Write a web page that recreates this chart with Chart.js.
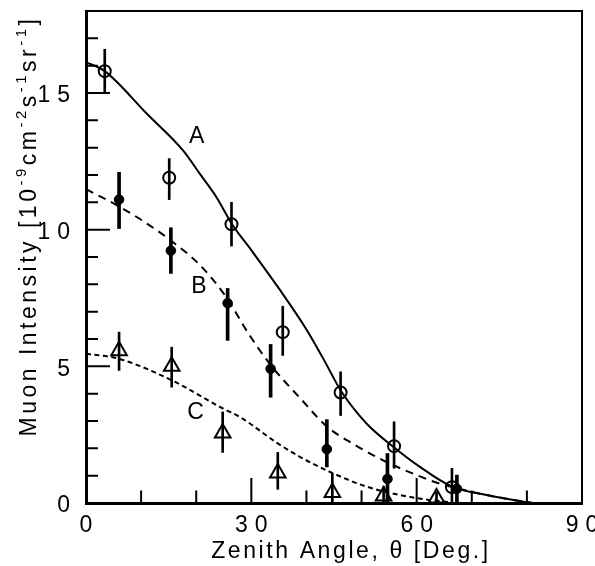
<!DOCTYPE html>
<html><head><meta charset="utf-8">
<script src="https://cdn.jsdelivr.net/npm/chart.js@4/dist/chart.umd.min.js"></script>
<style>html,body{margin:0;padding:0;background:#fff}</style>
</head><body>
<canvas id="c" width="595" height="566"></canvas>
<script>
// ---- axis ticks ----
const xTickValues = [0, 30, 60, 90];
const xMajorTicks = [30, 60];
const xMinorTicks = [10, 20, 40, 50, 70, 80];
const yTickValues = [0, 5, 10, 15];
const yMajorTicks = [5, 10, 15];
const yMinorTicks = [1, 2, 3, 4, 6, 7, 8, 9, 11, 12, 13, 14, 16, 17];

// ---- data: A (open circles) ----
const angleA = [3.4, 15.1, 26.4, 35.7, 46.2, 55.9, 66.4];
const valueA = [15.8, 11.9, 10.2, 6.25, 4.04, 2.08, 0.58];
const lowA   = [15.0, 11.1, 9.4, 5.4, 3.2, 1.27, 0];
const highA  = [16.6, 12.6, 11.0, 7.2, 4.8, 2.97, 1.27];
// ---- data: B (filled circles) ----
const angleB = [6.0, 15.4, 25.7, 33.5, 43.7, 54.7, 67.3];
const valueB = [11.1, 9.23, 7.31, 4.91, 1.97, 0.88, 0.52];
const lowB   = [10.04, 8.4, 5.95, 3.87, 1.32, 0, 0];
const highB  = [12.1, 10.07, 7.85, 5.8, 3.05, 1.81, 1.02];
// ---- data: C (open triangles) ----
const angleC = [6.0, 15.55, 24.8, 34.8, 44.7, 54.0, 63.6];
const valueC = [5.57, 5.0, 2.56, 1.1, 0.38, 0.26, 0.18];
const lowC   = [4.85, 4.24, 1.85, 0.5, 0, 0, 0];
const highC  = [6.25, 5.7, 3.33, 1.85, 1.08, 0.6, 0.4];

// ---- model curves ----
const curveAx = [0, 3.4, 11, 17.6, 20.7, 23.7, 26.5, 30, 35, 40, 43, 46.4, 50.9, 55.8, 60.6, 66.4, 72.7, 79.4, 81];
const curveAy = [16.13, 15.8, 14.25, 12.9, 12.03, 11.18, 10.2, 9.25, 7.85, 6.35, 5.3, 4.06, 2.91, 2.05, 1.32, 0.6, 0.29, 0.05, 0];
const curveBx = [0, 6, 11.6, 15.4, 20.7, 25.2, 29.8, 33.5, 38.8, 43.7, 49, 54, 60, 64, 66.7, 72.7, 79.4, 81];
const curveBy = [11.48, 10.85, 10.15, 9.6, 8.7, 7.6, 6.1, 5.05, 3.85, 2.8, 2.1, 1.55, 1.02, 0.72, 0.57, 0.29, 0.05, 0];
const curveCx = [0, 5.9, 15.55, 24.9, 27.9, 34.8, 38.8, 44.9, 50.9, 57, 62, 66];
const curveCy = [5.46, 5.28, 4.49, 3.45, 3.15, 2.18, 1.69, 1.08, 0.6, 0.29, 0.12, 0.03];

// ---- curve labels ----
const curveLabels = ['A', 'B', 'C'];
const labelAngle = [20.1, 20.5, 19.9];
const labelValue = [13.4, 7.9, 3.3];

const xTitle = 'Zenith Angle, \u03B8 [Deg.]';
const yTitleParts = [['Muon Intensity [10', 0], ['-9', 1], ['cm', 0], ['-2', 1], ['s', 0], ['-1', 1], ['sr', 0], ['-1', 1], [']', 0]];

const FAMILY = '"Liberation Sans", Arial, Helvetica, sans-serif';
const pts = (xs, ys) => xs.map((x, i) => ({x, y: ys[i]}));
const bars = (xs, lo, hi) => xs.map((x, i) => ({x, y: [lo[i], hi[i]]}));

const decor = {
  id: 'decor',
  beforeDraw(chart) { chart.ctx.letterSpacing = '7px'; },
  afterDraw(chart) {
    const {ctx, chartArea: a, scales: {x, y}} = chart;
    ctx.save();
    ctx.letterSpacing = '0px';
    ctx.strokeStyle = '#000';
    ctx.fillStyle = '#000';
    ctx.lineWidth = 2;
    ctx.beginPath();
    ctx.moveTo(a.left, a.top); ctx.lineTo(a.right, a.top); ctx.lineTo(a.right, a.bottom);
    ctx.stroke();
    // inward ticks
    ctx.beginPath();
    xMajorTicks.forEach(v => { const p = x.getPixelForValue(v); ctx.moveTo(p, a.bottom); ctx.lineTo(p, a.bottom - 25); });
    xMinorTicks.forEach(v => { const p = x.getPixelForValue(v); ctx.moveTo(p, a.bottom); ctx.lineTo(p, a.bottom - 12.5); });
    yMajorTicks.forEach(v => { const p = y.getPixelForValue(v); ctx.moveTo(a.left, p); ctx.lineTo(a.left + 24, p); });
    yMinorTicks.forEach(v => { const p = y.getPixelForValue(v); ctx.moveTo(a.left, p); ctx.lineTo(a.left + 12, p); });
    ctx.stroke();
    // curve labels
    ctx.font = '23px ' + FAMILY;
    ctx.textAlign = 'center';
    ctx.textBaseline = 'middle';
    curveLabels.forEach((t, i) => ctx.fillText(t, x.getPixelForValue(labelAngle[i]), y.getPixelForValue(labelValue[i])));
    // x title
    ctx.font = '23px ' + FAMILY;
    ctx.textBaseline = 'alphabetic';
    ctx.letterSpacing = '2.6px';
    ctx.fillText(xTitle, 351, 558);
    // y title with superscripts
    ctx.letterSpacing = '3.5px';
    ctx.textAlign = 'left';
    const mainF = '23px ' + FAMILY, supF = '15px ' + FAMILY;
    let total = 0;
    yTitleParts.forEach(([t, s]) => { ctx.font = s ? supF : mainF; total += ctx.measureText(t).width; });
    ctx.translate(36, 226);
    ctx.rotate(-Math.PI / 2);
    let cx = -total / 2;
    yTitleParts.forEach(([t, s]) => {
      ctx.font = s ? supF : mainF;
      ctx.fillText(t, cx, s ? -10 : 0);
      cx += ctx.measureText(t).width;
    });
    ctx.restore();
  }
};

new Chart(document.getElementById('c'), {
  type: 'scatter',
  data: {
    datasets: [
      {type: 'scatter', data: pts(angleA, valueA), pointStyle: 'circle', pointRadius: 6, borderWidth: 2, borderColor: '#000', backgroundColor: 'rgba(0,0,0,0)'},
      {type: 'scatter', data: pts(angleB, valueB), pointStyle: 'circle', pointRadius: 4.8, borderWidth: 1, borderColor: '#000', backgroundColor: '#000'},
      {type: 'scatter', data: pts(angleC, valueC), pointStyle: 'triangle', pointRadius: 9, borderWidth: 2, borderColor: '#000', backgroundColor: 'rgba(0,0,0,0)'},
      {type: 'bar', data: bars(angleA, lowA, highA), backgroundColor: '#000', barThickness: 2, grouped: false, borderWidth: 0},
      {type: 'bar', data: bars(angleB, lowB, highB), backgroundColor: '#000', barThickness: 3, grouped: false, borderWidth: 0},
      {type: 'bar', data: bars(angleC, lowC, highC), backgroundColor: '#000', barThickness: 2, grouped: false, borderWidth: 0},
      {type: 'line', data: pts(curveAx, curveAy), borderColor: '#000', borderWidth: 2, pointRadius: 0, cubicInterpolationMode: 'monotone', fill: false},
      {type: 'line', data: pts(curveBx, curveBy), borderColor: '#000', borderWidth: 2, borderDash: [8, 6], pointRadius: 0, cubicInterpolationMode: 'monotone', fill: false},
      {type: 'line', data: pts(curveCx, curveCy), borderColor: '#000', borderWidth: 2, borderDash: [5, 3.5], pointRadius: 0, cubicInterpolationMode: 'monotone', fill: false}
    ]
  },
  options: {
    responsive: false,
    animation: false,
    events: [],
    layout: {padding: {top: 8, right: 13, left: 0, bottom: 0}},
    plugins: {legend: {display: false}, tooltip: {enabled: false}},
    scales: {
      x: {
        type: 'linear', min: 0, max: 90, offset: false,
        grid: {display: false},
        border: {display: true, width: 3, color: '#000'},
        afterBuildTicks: s => { s.ticks = xTickValues.map(v => ({value: v})); },
        afterFit: s => { s.height = 63; s.paddingLeft = 0; s.paddingRight = 0; },
        ticks: {padding: 1, labelOffset: 3.5, color: '#000', font: {size: 23, family: FAMILY}, maxRotation: 0, autoSkip: false}
      },
      y: {
        type: 'linear', min: 0, max: 18,
        grid: {display: false},
        border: {display: true, width: 3, color: '#000'},
        afterBuildTicks: s => { s.ticks = yTickValues.map(v => ({value: v})); },
        afterFit: s => { s.width = 86; s.paddingTop = 0; s.paddingBottom = 0; },
        ticks: {padding: 1, labelOffset: 3, color: '#000', font: {size: 23, family: FAMILY}, autoSkip: false}
      }
    }
  },
  plugins: [decor]
});
</script>
</body></html>
